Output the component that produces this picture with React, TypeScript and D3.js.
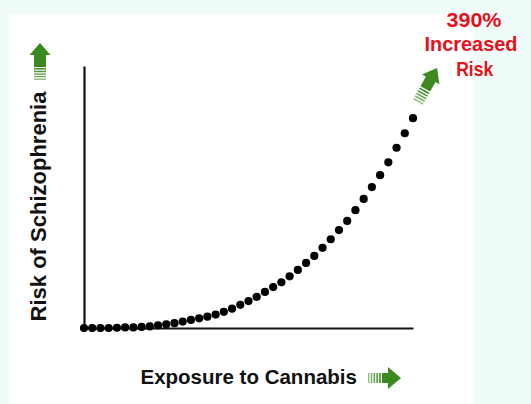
import React, { useEffect, useRef } from 'react';
import * as d3 from 'd3';

// exposure steps along the x axis (0 = none, 40 = heaviest)
const exposure = d3.range(0, 41);
// increase in risk (%) at each exposure step
const risk = [
  0, 0, 0, 0, 0.5, 1, 1, 2, 3, 5, 7, 9, 12, 15, 18, 21, 25, 30, 36, 43, 50,
  58, 67, 76, 85, 96, 108, 121, 134, 149, 165, 182, 199, 219, 240, 262, 284,
  308, 335, 362, 390,
];
const xLabel = 'Exposure to Cannabis';
const yLabel = 'Risk of Schizophrenia';
const calloutLines = ['390%', 'Increased', 'Risk'];

const W = 531;
const H = 404;
const green = '#3b8a1f';

function drawArrow(g, o) {
  const a = g.append('g')
    .attr('transform', `translate(${o.x},${o.y}) rotate(${o.angle})`);
  const pitch = o.stripeLen / o.stripes;
  for (let i = 0; i < o.stripes; i++) {
    a.append('rect')
      .attr('x', i * pitch)
      .attr('y', -o.shaftW / 2)
      .attr('width', pitch * 0.55)
      .attr('height', o.shaftW)
      .attr('fill', green)
      .attr('opacity', 0.55 + 0.45 * (i / (o.stripes - 1)));
  }
  a.append('rect')
    .attr('x', o.stripeLen)
    .attr('y', -o.shaftW / 2)
    .attr('width', o.len - o.headLen - o.stripeLen + 0.5)
    .attr('height', o.shaftW)
    .attr('fill', green);
  a.append('path')
    .attr('d', `M${o.len - o.headLen},${-o.headW / 2}L${o.len},0L${o.len - o.headLen},${o.headW / 2}Z`)
    .attr('fill', green);
}

export default function App() {
  const ref = useRef(null);

  useEffect(() => {
    const svg = d3.select(ref.current);
    svg.selectAll('*').remove();

    svg.append('rect').attr('width', W).attr('height', H).attr('fill', '#effcf8');
    svg.append('rect').attr('x', 9).attr('y', 14).attr('width', 464).attr('height', H - 14).attr('fill', '#ffffff');

    const x = d3.scaleLinear().domain([0, 40]).range([84, 413]);
    const y = d3.scaleLinear().domain([0, 487]).range([328, 66]);

    const xAxis = svg.append('g')
      .attr('transform', `translate(0,${y(0)})`)
      .call(d3.axisBottom(x).tickValues([]).tickSizeOuter(0));
    const yAxis = svg.append('g')
      .attr('transform', `translate(${x(0)},0)`)
      .call(d3.axisLeft(y).tickValues([]).tickSizeOuter(0));
    [xAxis, yAxis].forEach(ax => ax.select('.domain')
      .attr('stroke', '#111')
      .attr('stroke-width', 2.2));

    svg.append('g')
      .selectAll('circle')
      .data(exposure)
      .join('circle')
        .attr('cx', d => x(d))
        .attr('cy', (d, i) => y(risk[i]))
        .attr('r', 4.1)
        .attr('fill', '#000');

    svg.append('text')
      .attr('transform', 'translate(46,206.5) rotate(-90)')
      .attr('text-anchor', 'middle')
      .attr('font-family', '"Liberation Sans", Arial, sans-serif')
      .attr('font-weight', 700)
      .attr('font-size', 22)
      .attr('fill', '#111')
      .text(yLabel);

    svg.append('text')
      .attr('x', 140.5)
      .attr('y', 384)
      .attr('font-family', '"Liberation Sans", Arial, sans-serif')
      .attr('font-weight', 700)
      .attr('font-size', 20.5)
      .attr('fill', '#111')
      .text(xLabel);

    const callX = [474, 471, 474.7];
    const callY = [27, 51, 76];
    const callW = [55, 93, 37];
    svg.append('g')
      .selectAll('text')
      .data(calloutLines)
      .join('text')
        .attr('x', (d, i) => callX[i])
        .attr('y', (d, i) => callY[i])
        .attr('text-anchor', 'middle')
        .attr('font-family', '"Liberation Sans", Arial, sans-serif')
        .attr('font-weight', 700)
        .attr('font-size', 21)
        .attr('fill', '#e8101a')
        .attr('textLength', (d, i) => callW[i])
        .attr('lengthAdjust', 'spacingAndGlyphs')
        .text(d => d);

    drawArrow(svg, { x: 40, y: 80, angle: -90, len: 37, headLen: 12, headW: 21, shaftW: 12, stripeLen: 13, stripes: 5 });
    drawArrow(svg, { x: 368, y: 378, angle: 0, len: 33, headLen: 13, headW: 22, shaftW: 10, stripeLen: 14, stripes: 5 });
    drawArrow(svg, { x: 418, y: 102, angle: -60.8, len: 39, headLen: 13, headW: 20, shaftW: 11, stripeLen: 15, stripes: 5 });
  }, []);

  return (
    <div style={{ position: 'absolute', left: 0, top: 0 }}>
      <svg ref={ref} width={W} height={H} style={{ display: 'block' }} />
    </div>
  );
}
